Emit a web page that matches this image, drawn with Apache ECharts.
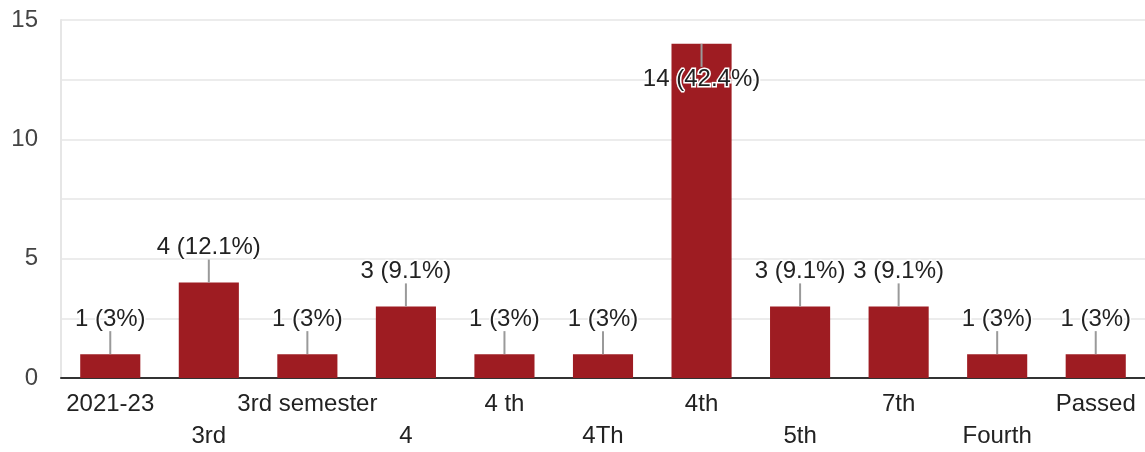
<!DOCTYPE html>
<html>
<head>
<meta charset="utf-8">
<script src="https://cdn.jsdelivr.net/npm/echarts@6/dist/echarts.min.js"></script>
<style>
  html, body { margin: 0; padding: 0; background: #fff; }
  #chart { width: 1145px; height: 452px; }
</style>
</head>
<body>
<div id="chart"></div>
<script>
// data
const categories = ['2021-23', '3rd', '3rd semester', '4', '4 th', '4Th', '4th', '5th', '7th', 'Fourth', 'Passed']
const counts = [1, 4, 1, 3, 1, 1, 14, 3, 3, 1, 1]
const percents = ['3%', '12.1%', '3%', '9.1%', '3%', '3%', '42.4%', '9.1%', '9.1%', '3%', '3%']
const yTicks = [0, 5, 10, 15]

const FONT = '"Liberation Sans", Arial, sans-serif'
const BAR = '#9e1c22'
const LEAD = 23 // leader line length in px
const maxVal = yTicks[yTicks.length - 1]

// the tallest bar has its label pushed inside the bar
const barData = counts.map((c, i) => {
  const item = { value: c }
  if (c > maxVal - 3) {
    item.label = { position: 'insideTop', distance: LEAD + 1 }
  }
  return item
})

const option = {
  animation: false,
  grid: { left: 61, right: 0, top: 20, bottom: 73 },
  xAxis: {
    type: 'category',
    data: categories,
    axisLine: { lineStyle: { color: '#333', width: 2 } },
    axisTick: { show: false },
    axisLabel: {
      interval: 0,
      margin: 10,
      color: '#222',
      fontFamily: FONT,
      fontSize: 24,
      lineHeight: 32,
      formatter: (v, i) => (i % 2 ? '\n' + v : v)
    }
  },
  yAxis: {
    type: 'value',
    min: 0,
    max: maxVal,
    interval: 5,
    axisLine: { show: true, lineStyle: { color: '#e6e6e6', width: 2 } },
    axisTick: { show: false },
    axisLabel: { margin: 23, color: '#444', fontFamily: FONT, fontSize: 24 },
    splitLine: { lineStyle: { color: '#ececec', width: 2 } },
    minorTick: { show: false, splitNumber: 2 },
    minorSplitLine: { show: true, lineStyle: { color: '#ececec', width: 2 } }
  },
  series: [{
    type: 'bar',
    data: barData,
    barWidth: '61%',
    itemStyle: { color: BAR },
    label: {
      show: true,
      position: 'top',
      distance: LEAD,
      color: '#222',
      fontFamily: FONT,
      fontSize: 24,
      textBorderColor: '#fff',
      textBorderWidth: 3,
      formatter: p => p.value + ' (' + percents[p.dataIndex] + ')'
    },
    z: 2
  }, {
    // leader lines from bar top to label
    type: 'custom',
    data: counts.map((c, i) => [i, c]),
    z: 3,
    renderItem: (params, api) => {
      const v = api.value(1)
      const p = api.coord([api.value(0), v])
      const dir = v > maxVal - 3 ? 1 : -1
      return {
        type: 'line',
        shape: { x1: p[0], y1: p[1], x2: p[0], y2: p[1] + dir * LEAD },
        style: { stroke: '#9a9a9a', lineWidth: 2 }
      }
    },
    silent: true
  }]
}

const myChart = echarts.init(document.getElementById('chart'))
myChart.setOption(option)
</script>
</body>
</html>
